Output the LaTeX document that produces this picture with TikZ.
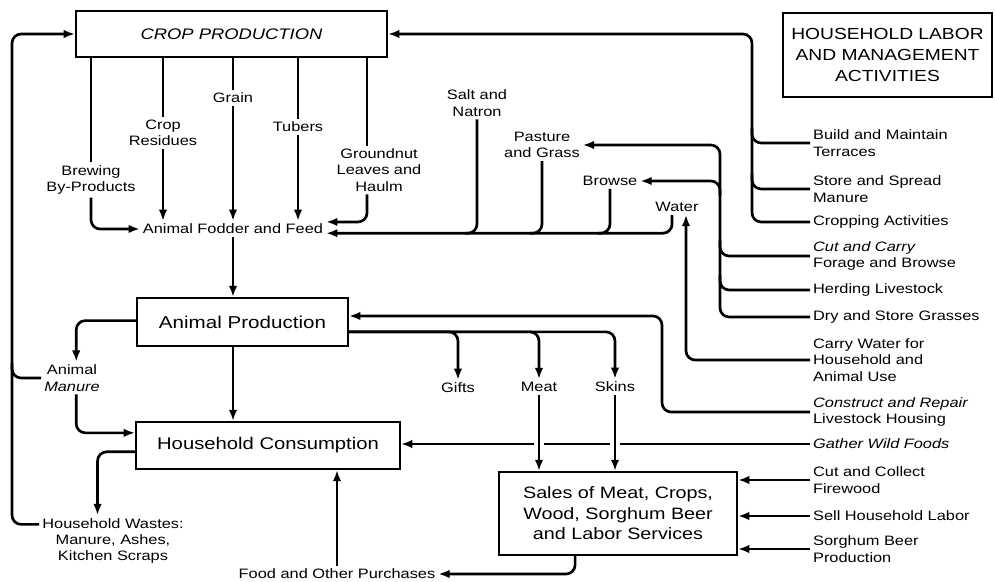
\documentclass[tikz,border=0pt]{standalone}
\usepackage{fontspec}
\setmainfont{Liberation Sans}[FakeStretch=1.2]
\usepackage{tikz}
\usetikzlibrary{calc,arrows.meta}

\begin{document}
\begin{tikzpicture}[x=0.025cm,y=-0.025cm,
 box/.style={draw,line width=1.4pt,align=center,inner sep=2pt},
 lbl/.style={align=center,inner sep=2pt,font=\fontsize{9.7}{11.6}\selectfont},
 rlbl/.style={lbl,align=left,anchor=west},
 ln/.style={line width=1.9pt,rounded corners=6.5pt},
 arr/.style={ln,-{Latex[length=8pt,width=6pt]}},
 gap/.style={preaction={draw=white,line width=7pt,-,shorten >=5pt,shorten <=2pt}}]
\useasboundingbox (0,0) rectangle (995,582);
\node[box,minimum width=7.775cm,minimum height=1.15cm,font=\fontsize{10.9}{13}\selectfont\itshape] (crop) at (231.5,34) {CROP PRODUCTION};
\node[box,minimum width=5.225cm,minimum height=2.1cm,font=\fontsize{11.4}{15}\selectfont] (hlma) at (887.5,55) {HOUSEHOLD LABOR\\AND MANAGEMENT\\ACTIVITIES};
\node[box,minimum width=5.275cm,minimum height=1.2cm,font=\fontsize{12.2}{14}\selectfont] (ap) at (242.5,322) {Animal Production};
\node[box,minimum width=6.6cm,minimum height=1.175cm,font=\fontsize{12}{14}\selectfont] (hc) at (268,445.5) {Household Consumption};
\node[box,minimum width=5.95cm,minimum height=2.075cm,font=\fontsize{11.7}{14.6}\selectfont] (sales) at (618,513.5) {Sales of Meat, Crops,\\Wood, Sorghum Beer\\and Labor Services};
\node[lbl] (brew) at (91,180) {Brewing\\By-Products};
\node[lbl] (resid) at (163,133) {Crop\\Residues};
\node[lbl] (grain) at (233,98) {Grain};
\node[lbl] (tubers) at (298,127) {Tubers};
\node[lbl] (gnut) at (379,170) {Groundnut\\Leaves and\\Haulm};
\node[lbl] (feed) at (233,229) {Animal Fodder and Feed};
\node[lbl] (salt) at (477,103) {Salt and\\Natron};
\node[lbl] (pasture) at (542,145) {Pasture\\and Grass};
\node[lbl] (browse) at (610,181) {Browse};
\node[lbl] (water) at (677,207) {Water};
\node[lbl] (gifts) at (458,388) {Gifts};
\node[lbl] (meat) at (539,387) {Meat};
\node[lbl] (skins) at (615,387) {Skins};
\node[lbl] (manure) at (72,378) {Animal\\\textit{Manure}};
\node[lbl] (wastes) at (113,541) {Household Wastes:\\Manure, Ashes,\\Kitchen Scraps};
\node[lbl] (purch) at (337,574) {Food and Other Purchases};
\node[rlbl] (build) at (810,143) {Build and Maintain\\Terraces};
\node[rlbl] (store) at (810,189) {Store and Spread\\Manure};
\node[rlbl] (cropact) at (810,222) {Cropping Activities};
\node[rlbl] (cutcarry) at (810,256) {\textit{Cut and Carry}\\Forage and Browse};
\node[rlbl] (herd) at (810,290) {Herding Livestock};
\node[rlbl] (drystore) at (810,317) {Dry and Store Grasses};
\node[rlbl] (carrywater) at (810,360) {Carry Water for\\Household and\\Animal Use};
\node[rlbl] (construct) at (810,412) {\textit{Construct and Repair}\\Livestock Housing};
\node[rlbl] (gather) at (810,444) {\textit{Gather Wild Foods}};
\node[rlbl] (firewood) at (810,480) {Cut and Collect\\Firewood};
\node[rlbl] (selllabor) at (810,516) {Sell Household Labor};
\node[rlbl] (beer) at (810,549) {Sorghum Beer\\Production};
\coordinate (lx) at (12,0);
\coordinate (t1) at (752,0);
\coordinate (t2) at (720,0);
\coordinate (t3) at (686,0);
\coordinate (t4) at (662,0);
\coordinate (gn) at ([xshift=-8.5pt]gnut.south);
\coordinate (feedhi) at ([yshift=5pt]feed.east);
\coordinate (feedlo) at ([yshift=-3pt]feed.east);
\coordinate (apin) at ([yshift=4.3pt]ap.east);
\coordinate (apout) at ([yshift=-7pt]ap.east);
\draw[ln] (brew.north |- crop.south) -- (brew.north);
\draw[arr] (brew.south) |- (feed.west);
\draw[ln] (resid.north |- crop.south) -- (resid.north);
\draw[arr] (resid.south) -- (resid.south |- feed.north);
\draw[ln] (grain.north |- crop.south) -- (grain.north);
\draw[arr] (grain.south) -- (grain.south |- feed.north);
\draw[ln] (tubers.north |- crop.south) -- (tubers.north);
\draw[arr] (tubers.south) -- (tubers.south |- feed.north);
\draw[ln] (gn |- crop.south) -- (gn |- gnut.north);
\draw[arr] (gn) |- (feedhi);
\draw[arr] ([xshift=-3.5pt]water.south) |- (feedlo);
\draw[ln] (salt.south) |- ($(salt.south |- feedlo)+(-12,0)$);
\draw[ln] (pasture.south) |- ($(pasture.south |- feedlo)+(-12,0)$);
\draw[ln] (browse.south) |- ($(browse.south |- feedlo)+(-12,0)$);
\draw[arr] (cropact.west) -| (t1 |- crop.east) -- (crop.east);
\draw[ln] (build.west) -| ($(t1 |- build.west)+(0,-15)$);
\draw[ln] (store.west) -| ($(t1 |- store.west)+(0,-15)$);
\draw[arr] (drystore.west) -| (t2 |- pasture.east) -- (pasture.east);
\draw[arr] ($(t2 |- browse.east)+(0,15)$) |- (browse.east);
\draw[ln] (cutcarry.west) -| ($(t2 |- cutcarry.west)+(0,-15)$);
\draw[ln] (herd.west) -| ($(t2 |- herd.west)+(0,-15)$);
\draw[arr] (carrywater.west) -| (t3 |- water.south);
\draw[arr] (construct.west) -| (t4 |- apin) -- (apin);
\draw[arr] (feed.south) -- (feed.south |- ap.north);
\draw[arr] (feed.south |- ap.south) -- (feed.south |- hc.north);
\draw[arr] (apout) -| (skins.north);
\draw[arr] (apout) -| (meat.north);
\draw[arr] (apout) -| (gifts.north);
\draw[arr] ([yshift=1pt]ap.west) -| ([xshift=3pt]manure.north);
\draw[arr] ([xshift=3pt]manure.south) |- ([yshift=9pt]hc.west);
\draw[arr] ([yshift=-4.5pt]hc.west) -| ([xshift=-11pt]wastes.north);
\draw[arr] ([yshift=-6.5pt]wastes.north west) -| (lx |- crop.west) -- (crop.west);
\draw[ln] (manure.west) -| ($(lx |- manure.west)+(0,-15)$);
\draw[arr] (gather.west) -- (gather.west -| hc.east);
\draw[arr,gap] (meat.south) -- (meat.south |- sales.north);
\draw[arr,gap] (skins.south) -- (skins.south |- sales.north);
\draw[arr] (firewood.west) -- (firewood.west -| sales.east);
\draw[arr] (selllabor.west) -- (selllabor.west -| sales.east);
\draw[arr] (beer.west) -- (beer.west -| sales.east);
\draw[arr] ([xshift=-30.5pt]sales.south) |- (purch.east);
\draw[arr] (purch.north) -- (purch.north |- hc.south);
\end{tikzpicture}
\end{document}
